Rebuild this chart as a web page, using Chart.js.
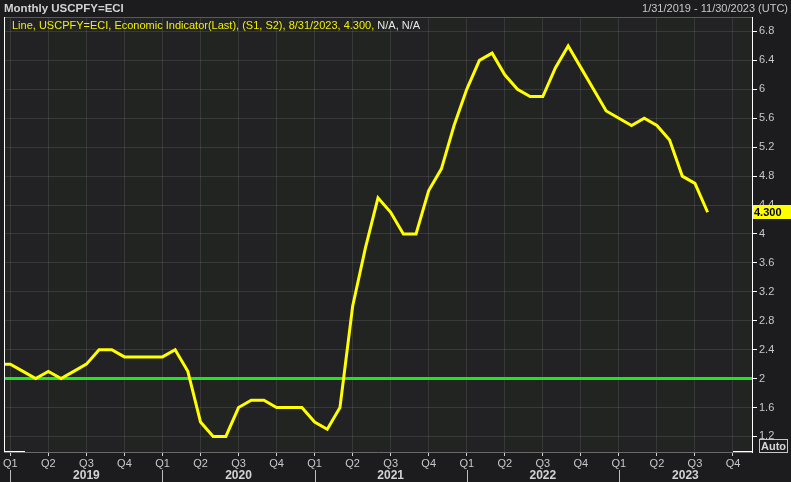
<!DOCTYPE html>
<html>
<head>
<meta charset="utf-8">
<script src="https://cdn.jsdelivr.net/npm/chart.js@4.4.1/dist/chart.umd.min.js"></script>
<style>
  html, body { margin: 0; padding: 0; background: #1c1c1e; }
  #wrap { position: relative; width: 791px; height: 482px; overflow: hidden; }
  #chart { position: absolute; left: 0; top: 0; }
  .txt { position: absolute; font-family: "Liberation Sans", "DejaVu Sans", sans-serif; font-size: 11px; white-space: nowrap; line-height: 13px; }
  #title { left: 4px; top: 2px; font-weight: bold; font-size: 11.5px; color: #d2d2d2; }
  #range { right: 3px; top: 2px; color: #c8c8c8; }
  #legend { left: 12px; top: 19px; color: #f0f000; }
  #legend span { color: #e6e6e6; }
</style>
</head>
<body>
<div id="wrap">
  <canvas id="chart" width="791" height="482"></canvas>
  <div class="txt" id="title">Monthly USCPFY=ECI</div>
  <div class="txt" id="range">1/31/2019 - 11/30/2023 (UTC)</div>
  <div class="txt" id="legend">Line, USCPFY=ECI, Economic Indicator(Last), (S1, S2), 8/31/2023, 4.300, <span>N/A, N/A</span></div>
</div>
<script>
// years on the axis, quarter names, y tick values
const years = ['2019', '2020', '2021', '2022', '2023'];
const quarterLabels = ['Q1', 'Q2', 'Q3', 'Q4'];
const yTicks = [1.2, 1.6, 2, 2.4, 2.8, 3.2, 3.6, 4, 4.4, 4.8, 5.2, 5.6, 6, 6.4, 6.8];

// monthly values, Dec 2018 .. Aug 2023
const firstMonth = -1; // Dec 2018, Jan 2019 = 0
const coreCpiYoY = [
  2.2,
  2.2, 2.1, 2.0, 2.1, 2.0, 2.1, 2.2, 2.4, 2.4, 2.3, 2.3, 2.3,
  2.3, 2.4, 2.1, 1.4, 1.2, 1.2, 1.6, 1.7, 1.7, 1.6, 1.6, 1.6,
  1.4, 1.3, 1.6, 3.0, 3.8, 4.5, 4.3, 4.0, 4.0, 4.6, 4.9, 5.5,
  6.0, 6.4, 6.5, 6.2, 6.0, 5.9, 5.9, 6.3, 6.6, 6.3, 6.0, 5.7,
  5.6, 5.5, 5.6, 5.5, 5.3, 4.8, 4.7, 4.3
];
const referenceLevel = 2;
const lastValue = 4.3;

const xMin = -0.5, xMax = 58.5;

const quarterTicks = [];
years.forEach((yr, i) => {
  quarterLabels.forEach((q, j) => quarterTicks.push(i * 12 + j * 3));
});

const linePoints = coreCpiYoY.map((v, i) => ({ x: firstMonth + i, y: v }));
const refPoints = [{ x: xMin, y: referenceLevel }, { x: xMax, y: referenceLevel }];

const FONT = '"Liberation Sans", "DejaVu Sans", sans-serif';

function seg(ctx, x1, y1, x2, y2) {
  ctx.beginPath();
  ctx.moveTo(x1, y1);
  ctx.lineTo(x2, y2);
  ctx.stroke();
}

const overlay = {
  id: 'overlay',
  beforeDraw(chart) {
    const { ctx, chartArea: a, scales } = chart;
    const x = scales.x;
    ctx.save();
    ctx.fillStyle = '#222124';
    ctx.fillRect(a.left, a.top, a.right - a.left, a.bottom - a.top);
    // alternate quarter shading (Q2 / Q4 a touch greener)
    ctx.fillStyle = '#222422';
    for (let q = -3; q < xMax; q += 6) {
      const x1 = Math.max(a.left, x.getPixelForValue(q));
      const x2 = Math.min(a.right, x.getPixelForValue(q + 3));
      if (x2 > x1) ctx.fillRect(x1, a.top, x2 - x1, a.bottom - a.top);
    }
    ctx.restore();
  },
  afterDraw(chart) {
    const { ctx, chartArea: a, scales } = chart;
    const x = scales.x, y = scales.y;
    ctx.save();
    ctx.lineWidth = 1;

    // frame
    ctx.strokeStyle = '#5a5a5a';
    seg(ctx, a.left, a.top + 0.5, a.right, a.top + 0.5);
    ctx.strokeStyle = '#ffffff';
    seg(ctx, a.left + 0.5, a.top, a.left + 0.5, a.bottom);
    seg(ctx, a.left, a.bottom - 0.5, a.left + 21, a.bottom - 0.5);
    seg(ctx, a.right - 19, a.bottom - 0.5, a.right, a.bottom - 0.5);

    // years + separators
    ctx.font = 'bold 12px ' + FONT;
    ctx.textAlign = 'center';
    ctx.textBaseline = 'middle';
    years.forEach((yr, i) => {
      const s = i * 12;
      const e = Math.min(s + 12, xMax);
      ctx.fillStyle = '#d2d2d2';
      ctx.fillText(yr, x.getPixelForValue((s + e) / 2), 476);
      const px = Math.round(x.getPixelForValue(s)) + 0.5;
      ctx.strokeStyle = '#bdbdbd';
      seg(ctx, px, 470, px, 482);
    });

    // last value flag
    const py = Math.round(y.getPixelForValue(lastValue));
    ctx.fillStyle = '#ffff00';
    ctx.fillRect(a.right + 1, py - 7, 39, 14);
    ctx.fillStyle = '#000000';
    ctx.font = 'bold 11px ' + FONT;
    ctx.textAlign = 'left';
    ctx.fillText(lastValue.toFixed(3), a.right + 2, py + 0.5);

    // Auto button
    ctx.strokeStyle = '#c8c8c8';
    ctx.strokeRect(759.5, 439.5, 28, 13);
    ctx.fillStyle = '#d6d6d6';
    ctx.fillText('Auto', 761, 446.5);

    ctx.restore();
  }
};

new Chart(document.getElementById('chart'), {
  type: 'line',
  data: {
    datasets: [
      {
        label: 'USCPFY=ECI',
        data: linePoints,
        borderColor: '#ffff00',
        borderWidth: 3,
        pointRadius: 0,
        tension: 0,
        order: 1
      },
      {
        label: 'level',
        data: refPoints,
        borderColor: '#1fe61f',
        borderWidth: 3,
        pointRadius: 0,
        order: 2
      }
    ]
  },
  options: {
    responsive: false,
    devicePixelRatio: 1,
    animation: false,
    layout: { padding: { top: 17, left: 4, right: 0, bottom: 0 } },
    plugins: {
      legend: { display: false },
      tooltip: { enabled: false }
    },
    scales: {
      x: {
        type: 'linear',
        position: 'bottom',
        min: xMin,
        max: xMax,
        afterBuildTicks: (scale) => { scale.ticks = quarterTicks.map(v => ({ value: v })); },
        afterFit: (scale) => { scale.height = 30; },
        ticks: {
          autoSkip: false,
          maxRotation: 0,
          padding: 1,
          color: '#c8c8c8',
          font: { family: FONT, size: 11 },
          callback: (v) => quarterLabels[(Math.round(v) / 3) % 4]
        },
        grid: {
          color: 'rgba(255, 255, 255, 0.1)',
          tickColor: '#d0d0d0',
          tickLength: 4
        },
        border: { color: '#6a6a6a', width: 1 }
      },
      y: {
        type: 'linear',
        position: 'right',
        min: 0.985,
        max: 7.0,
        afterBuildTicks: (scale) => { scale.ticks = yTicks.map(v => ({ value: v })); },
        afterFit: (scale) => { scale.width = 39; },
        ticks: {
          padding: 2,
          color: '#c8c8c8',
          font: { family: FONT, size: 11 },
          callback: (v) => String(v)
        },
        grid: {
          color: 'rgba(255, 255, 255, 0.1)',
          tickColor: '#ffffff',
          tickLength: 5
        },
        border: { color: '#ffffff', width: 1 }
      }
    }
  },
  plugins: [overlay]
});
</script>
</body>
</html>
